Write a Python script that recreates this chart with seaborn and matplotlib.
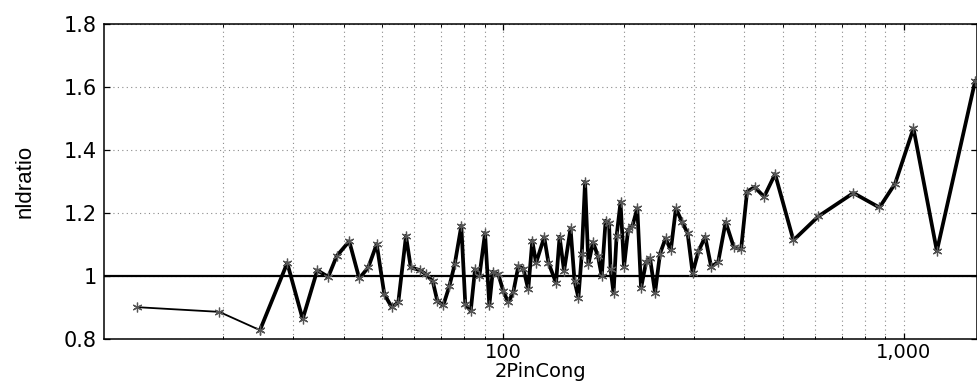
import numpy as np
import pandas as pd
import matplotlib
matplotlib.use("Agg")
import matplotlib.pyplot as plt
from matplotlib.ticker import FixedLocator, FuncFormatter, LogLocator, NullFormatter
import seaborn as sns

# 2-pin congestion vs. net-length-delay ratio
pin_cong = [
    12.18, 19.59, 24.75, 28.95, 31.63, 34.40, 36.64, 38.46, 41.34, 43.78,
    46.11, 48.40, 50.56, 52.75, 54.79, 57.27, 58.85, 62.09, 64.26, 66.79,
    68.55, 70.96, 73.45, 75.77, 78.69, 80.52, 83.07, 85.15, 87.29, 90.18,
    92.43, 94.25, 97.34, 100.2, 103.1, 106.1, 109.2, 112.4, 115.6, 118.3,
    120.9, 126.7, 129.8, 135.6, 138.4, 142.0, 147.4, 150.8, 154.2, 157.2,
    160.2, 163.3, 167.7, 172.6, 176.3, 180.3, 183.9, 185.5, 188.7, 192.0,
    196.4, 200.4, 205.1, 210.4, 216.3, 221.0, 227.4, 232.7, 239.5, 246.5,
    254.4, 262.2, 270.0, 279.8, 288.8, 297.2, 307.3, 319.4, 330.6, 344.2,
    359.3, 376.6, 392.6, 406.3, 424.3, 448.1, 477.3, 530.3, 612.2, 748.5,
    869.4, 951.2, 1057.0, 1209.0, 1507.0,
]
nld_ratio = [
    0.902, 0.887, 0.829, 1.042, 0.864, 1.019, 0.998, 1.064, 1.111, 0.993,
    1.028, 1.102, 0.943, 0.902, 0.917, 1.128, 1.028, 1.019, 1.006, 0.984,
    0.922, 0.908, 0.968, 1.038, 1.160, 0.911, 0.890, 1.022, 1.000, 1.137,
    0.908, 1.014, 1.006, 0.952, 0.917, 0.950, 1.032, 1.024, 0.958, 1.113,
    1.042, 1.124, 1.043, 0.979, 1.125, 1.017, 1.152, 0.985, 0.932, 1.069,
    1.299, 1.038, 1.108, 1.063, 1.000, 1.176, 1.168, 1.022, 0.947, 1.127,
    1.235, 1.030, 1.146, 1.160, 1.216, 0.962, 1.044, 1.057, 0.948, 1.072,
    1.120, 1.083, 1.215, 1.172, 1.136, 1.010, 1.079, 1.125, 1.030, 1.045,
    1.172, 1.092, 1.085, 1.268, 1.283, 1.252, 1.324, 1.114, 1.190, 1.264,
    1.218, 1.294, 1.469, 1.080, 1.620,
]
y_ticks = [0.8, 1.0, 1.2, 1.4, 1.6, 1.8]
x_ticks = [100, 1000]
reference_level = 1.0

df = pd.DataFrame({"2PinCong": pin_cong, "nldratio": nld_ratio})

sns.set_style("white")
plt.rcParams["font.family"] = ["DejaVu Sans"]
plt.rcParams.update({"text.color": "black", "axes.labelcolor": "black",
                     "xtick.color": "black", "ytick.color": "black"})

fig = plt.figure(figsize=(9.77, 3.85), dpi=100)
ax = fig.add_axes([0.1064, 0.1187, 0.8933, 0.819])

ax.set_xscale("log")
ax.set_xlim(10.1, 1520)
ax.set_ylim(0.8, 1.8)
ax.xaxis.set_major_locator(FixedLocator(x_ticks))
ax.xaxis.set_minor_locator(LogLocator(base=10, subs=np.arange(2, 10)))
ax.xaxis.set_minor_formatter(NullFormatter())
ax.xaxis.set_major_formatter(FuncFormatter(lambda v, p: f"{v:,.0f}"))
ax.yaxis.set_major_locator(FixedLocator(y_ticks))
ax.yaxis.set_major_formatter(FuncFormatter(lambda v, p: f"{v:g}"))
grid_kw = dict(color="#8a8a8a", linestyle=(0, (1, 3)), linewidth=0.8)
ax.grid(True, which="both", axis="x", **grid_kw)
ax.grid(True, which="major", axis="y", **grid_kw)
ax.set_axisbelow(True)

ax.axhline(reference_level, color="black", linewidth=1.6, zorder=2)

marker_kw = dict(marker=(6, 2, 0), markersize=7, markeredgewidth=0.9,
                 markeredgecolor="#555555")
# the first sparse points are joined with a thinner stroke
sns.lineplot(data=df.iloc[:3], x="2PinCong", y="nldratio", ax=ax,
             estimator=None, sort=False, color="black", linewidth=1.3,
             zorder=3, **marker_kw)
sns.lineplot(data=df.iloc[2:], x="2PinCong", y="nldratio", ax=ax,
             estimator=None, sort=False, color="black", linewidth=2.7,
             zorder=3, **marker_kw)

ax.set_xlim(10.1, 1520)
ax.set_ylim(0.8, 1.8)

for side in ["left", "bottom", "top", "right"]:
    ax.spines[side].set_visible(True)
    ax.spines[side].set_color("black")
    ax.spines[side].set_linewidth(1.1)

ax.tick_params(which="both", direction="in", top=True, right=True,
               bottom=True, left=True, color="black")
ax.tick_params(which="major", length=4, width=0.9)
ax.tick_params(which="minor", length=2, width=0.7)
ax.tick_params(axis="y", which="major", labelsize=15, pad=5)
ax.tick_params(axis="x", which="major", labelsize=14, pad=3)

ax.set_xlabel("2PinCong", fontsize=14, labelpad=0)
ax.set_ylabel("nldratio", fontsize=16, labelpad=20,
              family=["Liberation Sans", "DejaVu Sans"])

fig.savefig("out.png", dpi=100)
